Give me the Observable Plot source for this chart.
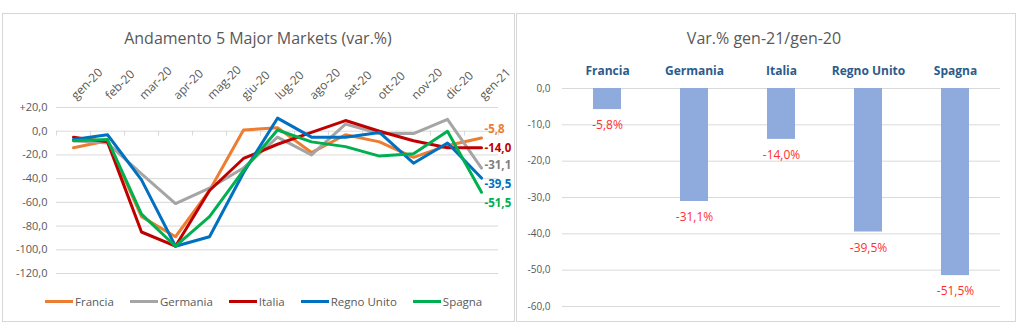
<!DOCTYPE html>
<html>
<head>
<meta charset="utf-8">
<script src="https://cdn.jsdelivr.net/npm/d3@7"></script>
<script src="https://cdn.jsdelivr.net/npm/@observablehq/plot@0.6"></script>
<style>
  html, body { margin: 0; padding: 0; background: #fff; }
  #root { position: relative; width: 1024px; height: 332px; background: #fff; font-family: "Open Sans", sans-serif; overflow: hidden; }
  .abs { position: absolute; }
  .panel { position: absolute; border: 1px solid #d6d6d6; box-sizing: border-box; z-index: 5; pointer-events: none; }
  .title { position: absolute; width: 400px; text-align: center; font-size: 16px; line-height: 20px; color: #595959; z-index: 6; }
  .legend { position: absolute; display: flex; align-items: center; font-size: 11.5px; color: #595959; z-index: 6; }
  .legend .item { display: flex; align-items: center; margin-right: 16px; }
  .legend .sw { width: 28px; height: 3px; margin-right: 2px; }
</style>
</head>
<body>
<div id="root"></div>
<script>
// ---------- data ----------
const months = ["gen-20","feb-20","mar-20","apr-20","mag-20","giu-20","lug-20","ago-20","set-20","ott-20","nov-20","dic-20","gen-21"];
const series = ["Francia","Germania","Italia","Regno Unito","Spagna"];
const francia    = [-14, -8, -72, -89, -50,   1,   3, -18,  -3,  -9, -22, -12,  -5.8];
const germania   = [ -8,-10, -36, -61, -48, -31,  -5, -20,   6,  -2,  -2,  10, -31.1];
const italia     = [ -5, -9, -85, -97, -50, -23, -11,  -1,   9,   0,  -8, -14, -14.0];
const regnoUnito = [ -7, -3, -41, -97, -89, -35,  11,  -5,  -5,  -1, -27, -10, -39.5];
const spagna     = [ -8, -7, -70, -97, -72, -33,   1,  -9, -13, -21, -19,   0, -51.5];
const seriesValues = [francia, germania, italia, regnoUnito, spagna];
const lineColors = ["#ED7D31","#A5A5A5","#C00000","#0070C0","#00B050"];
const yTicksLeft = [20, 0, -20, -40, -60, -80, -100, -120];

const countries = ["Francia","Germania","Italia","Regno Unito","Spagna"];
const varValues = [-5.8, -31.1, -14.0, -39.5, -51.5];
const yTicksRight = [0, -10, -20, -30, -40, -50, -60];

// ---------- helpers ----------
const loc = d3.formatLocale({decimal: ",", thousands: ".", grouping: [3], currency: ["", "€"], minus: "-"});
const f1 = loc.format(".1f");
const fmtSigned = v => (v > 0 ? "+" : "") + f1(v);

const long = [];
series.forEach((s, i) => months.forEach((m, j) => long.push({series: s, month: m, value: seriesValues[i][j]})));
const last = series.map((s, i) => ({series: s, month: months[months.length - 1], value: seriesValues[i][months.length - 1]}));

const labelFill = {"Francia": "#ED7D31", "Germania": "#7F7F7F", "Italia": "#C00000", "Regno Unito": "#0070C0", "Spagna": "#00B050"};
const labelDy = {"Francia": -9, "Germania": -3, "Italia": 0, "Regno Unito": 6, "Spagna": 11};

const svgStyle = {background: "transparent", overflow: "visible", fontFamily: "'Open Sans', sans-serif"};
const root = document.getElementById("root");

// ---------- left chart ----------
const leftMarks = [
  Plot.ruleY(yTicksLeft, {stroke: "#d9d9d9", strokeWidth: 1}),
  Plot.ruleX(months, {x: d => d, y1: 0, y2: -4, dx: -17, stroke: "#d9d9d9"}),
  Plot.ruleX([months[months.length - 1]], {x: d => d, y1: 0, y2: -4, dx: 17, stroke: "#d9d9d9"}),
  Plot.axisY({ticks: yTicksLeft, tickFormat: fmtSigned, tickSize: 0, tickPadding: 9, fontSize: 11, fill: "#595959", label: null}),
  Plot.axisX({anchor: "top", tickRotate: -45, tickSize: 0, tickPadding: 10, fontSize: 12, fill: "#595959", label: null, textAnchor: "start"}),
  Plot.line(long, {x: "month", y: "value", z: "series", stroke: "series", strokeWidth: 3, strokeLinejoin: "round"})
];
last.forEach(d => {
  leftMarks.push(Plot.text([d], {x: "month", y: "value", text: v => f1(v.value), dx: 3, dy: labelDy[d.series],
    textAnchor: "start", fill: labelFill[d.series], fontWeight: "bold", fontSize: 11.5}));
});

const left = Plot.plot({
  width: 516, height: 332,
  marginLeft: 56, marginRight: 18, marginTop: 107, marginBottom: 59,
  style: svgStyle,
  x: {type: "point", domain: months, padding: 0.5},
  y: {domain: [-120, 20]},
  color: {domain: series, range: lineColors},
  marks: leftMarks
});
left.classList.add("abs");
left.style.left = "0px"; left.style.top = "0px";
root.appendChild(left);

// ---------- right chart ----------
const bars = countries.map((c, i) => ({country: c, value: varValues[i]}));
const right = Plot.plot({
  width: 508, height: 332,
  marginLeft: 46, marginRight: 24, marginTop: 88, marginBottom: 26,
  style: svgStyle,
  x: {domain: countries, paddingInner: 0.68, paddingOuter: 0.34},
  y: {domain: [-60, 0]},
  marks: [
    Plot.ruleY(yTicksRight, {stroke: "#d9d9d9", strokeWidth: 1}),
    Plot.axisY({ticks: yTicksRight, tickFormat: f1, tickSize: 0, tickPadding: 12, fontSize: 10, fill: "#595959", label: null}),
    Plot.axisX({anchor: "top", tickSize: 0, tickPadding: 14, fontSize: 12, fontWeight: "bold", fill: "#2b5b8c", label: null}),
    Plot.barY(bars, {x: "country", y: "value", fill: "#8FAADC"}),
    Plot.text(bars, {x: "country", y: "value", text: d => f1(d.value) + "%", dy: 16, fill: "#ff3030", fontSize: 12})
  ]
});
right.classList.add("abs");
right.style.left = "516px"; right.style.top = "0px";
root.appendChild(right);

// ---------- panels, titles, legend ----------
function addDiv(cls, styles, html) {
  const el = document.createElement("div");
  el.className = cls;
  Object.assign(el.style, styles);
  if (html != null) el.innerHTML = html;
  root.appendChild(el);
  return el;
}
addDiv("panel", {left: "2px", top: "13px", width: "513px", height: "309px"});
addDiv("panel", {left: "516px", top: "13px", width: "500px", height: "309px"});
addDiv("title", {left: "58px", top: "28px"}, "Andamento 5 Major Markets (var.%)");
addDiv("title", {left: "564px", top: "28px"}, "Var.% gen-21/gen-20");

const legend = addDiv("legend", {left: "45px", top: "292px", height: "18px"});
series.forEach((s, i) => {
  const item = document.createElement("div");
  item.className = "item";
  item.innerHTML = `<div class="sw" style="background:${lineColors[i]}"></div><span>${s}</span>`;
  legend.appendChild(item);
});
</script>
</body>
</html>
